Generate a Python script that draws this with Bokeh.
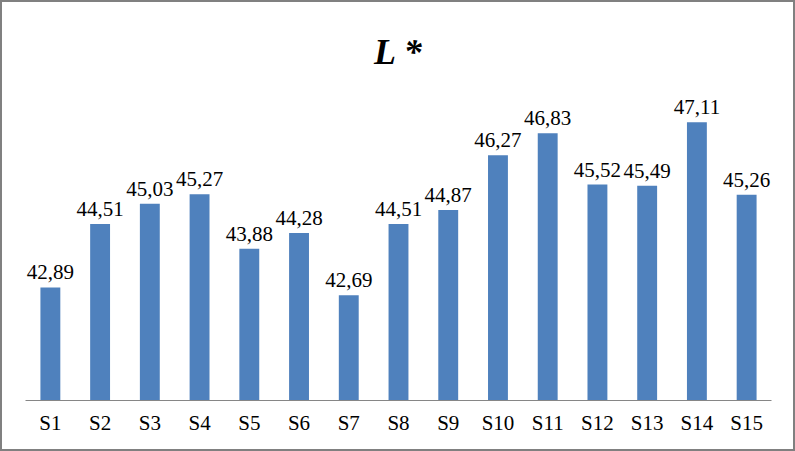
from bokeh.plotting import figure
from bokeh.models import ColumnDataSource, Range1d, FactorRange, Title
from bokeh.core.properties import value
from bokeh.embed import file_html
from bokeh.resources import INLINE

categories = ["S1", "S2", "S3", "S4", "S5", "S6", "S7", "S8", "S9", "S10",
              "S11", "S12", "S13", "S14", "S15"]
values = [42.89, 44.51, 45.03, 45.27, 43.88, 44.28, 42.69, 44.51, 44.87, 46.27,
          46.83, 45.52, 45.49, 47.11, 45.26]
labels = [f"{v:.2f}".replace(".", ",") for v in values]
title_text = "L *"

src = ColumnDataSource(dict(cat=categories, val=values, lab=labels))

p = figure(width=795, height=451, output_backend="svg", toolbar_location=None,
           x_range=FactorRange(*categories, range_padding=0),
           y_range=Range1d(40, 48),
           min_border_left=23, min_border_right=26, min_border_top=0,
           min_border_bottom=53)
p.styles = {"border": "2px solid #808080", "box-sizing": "border-box"}

# top spacer (outermost panel)
p.title.text = " "
p.title.text_font_size = "8px"
p.title.standoff = 0

title = Title(text=title_text, align="center", text_font="Liberation Serif",
              text_font_size="36px", text_font_style="bold italic",
              text_color="black", standoff=32)
p.add_layout(title, "above")

p.vbar(x="cat", top="val", bottom=40, width=0.4, source=src,
       fill_color="#4F81BD", line_color=None)
p.text(x="cat", y="val", text="lab", source=src, text_align="center",
       text_baseline="alphabetic", y_offset=-15,
       text_font=value("Liberation Serif"), text_font_size="21px", text_color="black")

p.yaxis.visible = False
p.xgrid.visible = False
p.ygrid.visible = False
p.outline_line_color = None
ax = p.xaxis[0]
ax.axis_line_color = "#868686"
ax.axis_line_width = 1
ax.major_tick_line_color = None
ax.minor_tick_line_color = None
ax.major_tick_out = 0
ax.major_tick_in = 0
ax.major_label_standoff = 10
ax.major_label_text_font = "Liberation Serif"
ax.major_label_text_font_size = "21px"
ax.major_label_text_color = "black"

open("out.html", "w").write(file_html(p, INLINE))
